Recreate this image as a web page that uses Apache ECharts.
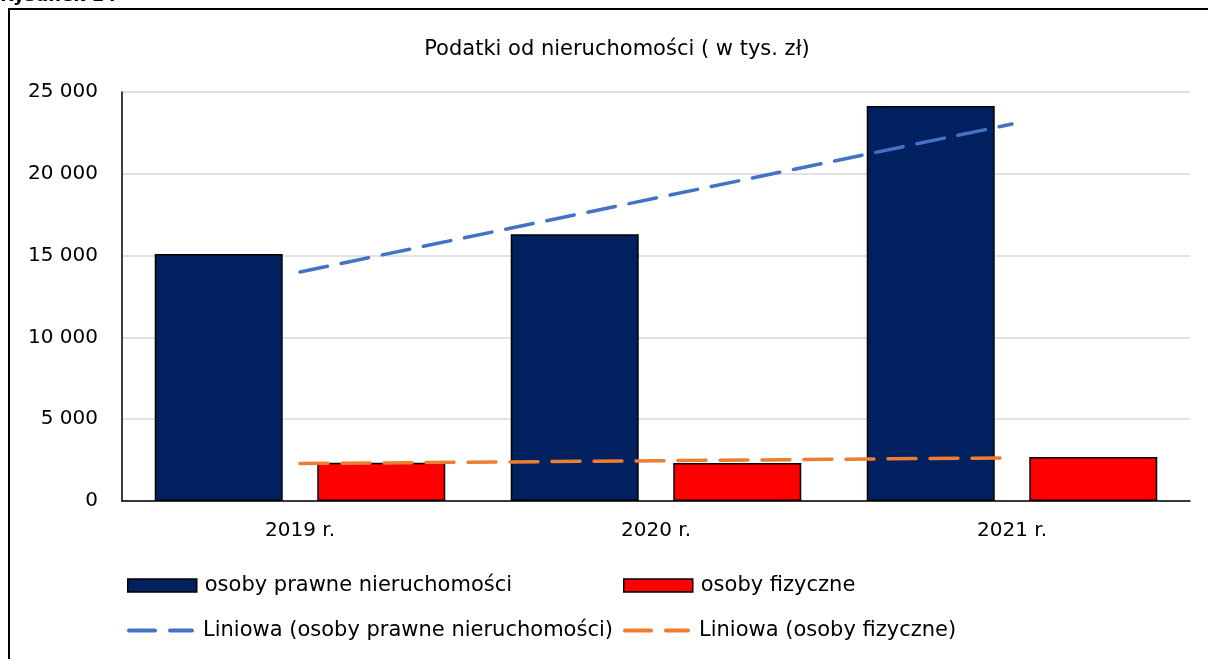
<!DOCTYPE html>
<html lang="pl">
<head>
    <meta charset="UTF-8">
    <title>Podatki od nieruchomości</title>
    <style>
        html, body { margin: 0; padding: 0; background: #fff; }
        #main { width: 1208px; height: 659px; }
    </style>
    <script src="https://cdn.jsdelivr.net/npm/echarts@6/dist/echarts.min.js"></script>
</head>
<body>
    <div id="main"></div>
    <script type="text/javascript">
        // dane (tys. zł)
        var lata = ['2019 r.', '2020 r.', '2021 r.'];
        var osobyPrawne = [15100, 16300, 24150];
        var osobyFizyczne = [2340, 2330, 2690];
        // linie trendu
        var trendPrawne = [14000, 18520, 23040];
        var trendFizyczne = [2290, 2460, 2640];

        var font = 'DejaVu Sans';
        var fontSize = 20;
        // ikona przerywanej linii w legendzie
        var dashIcon = 'path://M2,0 h26 a2,2 0 0 1 0,4 h-26 a2,2 0 0 1 0,-4 z M43,0 h22 a2,2 0 0 1 0,4 h-22 a2,2 0 0 1 0,-4 z';

        function legenda(name, left, top, line) {
            return {
                data: [{ name: name, icon: line ? dashIcon : 'rect' }],
                left: left,
                top: top,
                itemWidth: 69,
                itemHeight: line ? 4 : 13,
                itemGap: 0,
                padding: 0,
                selectedMode: false,
                itemStyle: line ? { borderWidth: 0 } : { borderColor: '#000', borderWidth: 1.5 },
                textStyle: { fontFamily: font, fontSize: 21, color: '#000', padding: [0, 0, 0, 3] }
            };
        }

        var option = {
            animation: false,
            backgroundColor: '#fff',
            title: {
                text: 'Podatki od nieruchomości ( w tys. zł)',
                left: 612,
                textAlign: 'center',
                top: 34,
                textStyle: { fontFamily: font, fontSize: 21, fontWeight: 'normal', color: '#000' }
            },
            graphic: [
                {
                    type: 'rect',
                    shape: { x: 9, y: 9, width: 1230, height: 700 },
                    style: { fill: null, stroke: '#000', lineWidth: 2 },
                    silent: true
                },
                {
                    type: 'text',
                    left: 0,
                    top: -13,
                    style: { text: 'Rysunek 14', font: 'bold 18px "DejaVu Sans"', fill: '#000' },
                    silent: true
                }
            ],
            legend: [
                legenda('osoby prawne nieruchomości', 127, 575, false),
                legenda('osoby fizyczne', 623, 575, false),
                legenda('Liniowa (osoby prawne nieruchomości)', 127, 620, true),
                legenda('Liniowa (osoby fizyczne)', 623, 620, true)
            ],
            grid: {
                left: 122,
                right: 18,
                top: 92,
                bottom: 158,
                containLabel: false
            },
            xAxis: {
                type: 'category',
                data: lata,
                axisLine: { lineStyle: { color: '#000', width: 1.5 } },
                axisTick: { show: false },
                axisLabel: { fontFamily: font, fontSize: fontSize, color: '#000', margin: 20 }
            },
            yAxis: {
                type: 'value',
                min: 0,
                max: 25000,
                interval: 5000,
                axisLine: { show: true, lineStyle: { color: '#000', width: 1.5 } },
                axisTick: { show: false },
                splitLine: { lineStyle: { color: '#d9d9d9', width: 1.5 } },
                axisLabel: {
                    fontFamily: font, fontSize: fontSize, color: '#000', margin: 24,
                    formatter: function (v) {
                        return String(v).replace(/\B(?=(\d{3})+(?!\d))/g, ' ');
                    }
                }
            },
            series: [
                {
                    name: 'osoby prawne nieruchomości',
                    type: 'bar',
                    data: osobyPrawne,
                    barWidth: 128,
                    barGap: '27%',
                    itemStyle: { color: '#00205f', borderColor: '#000', borderWidth: 1.5 }
                },
                {
                    name: 'osoby fizyczne',
                    type: 'bar',
                    data: osobyFizyczne,
                    barWidth: 128,
                    barGap: '27%',
                    itemStyle: { color: '#ff0000', borderColor: '#000', borderWidth: 1.5 }
                },
                {
                    name: 'Liniowa (osoby prawne nieruchomości)',
                    type: 'line',
                    data: trendPrawne,
                    symbol: 'none',
                    z: 5,
                    itemStyle: { color: '#4472c4' },
                    lineStyle: { color: '#4472c4', width: 3.5, type: [28, 14], cap: 'round' }
                },
                {
                    name: 'Liniowa (osoby fizyczne)',
                    type: 'line',
                    data: trendFizyczne,
                    symbol: 'none',
                    z: 5,
                    itemStyle: { color: '#ed7d31' },
                    lineStyle: { color: '#ed7d31', width: 3.5, type: [28, 14], cap: 'round' }
                }
            ]
        };

        var myChart = echarts.init(document.getElementById('main'));
        myChart.setOption(option);
    </script>
</body>
</html>
